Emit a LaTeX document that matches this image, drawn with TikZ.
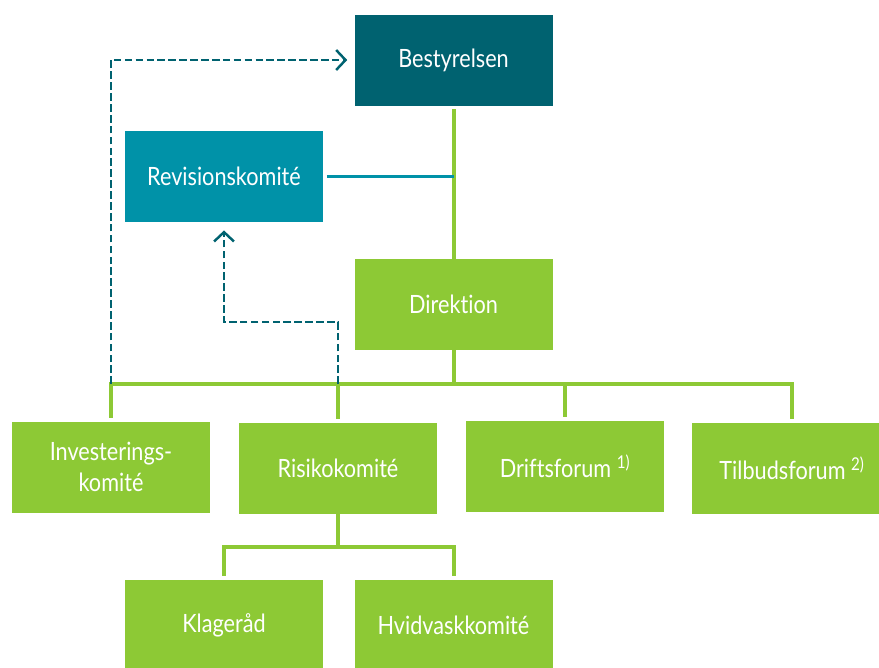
\documentclass[tikz,border=0pt]{standalone}
\usepackage{fontspec}
\setmainfont[FakeStretch=0.86,Ligatures=NoCommon]{Lato}
\usepackage{tikz}
\usetikzlibrary{arrows.meta}
\definecolor{boardc}{RGB}{0,98,112}
\definecolor{auditc}{RGB}{0,146,168}
\definecolor{mgmtc}{RGB}{141,201,53}

\begin{document}
\begin{tikzpicture}[x=0.03cm,y=-0.03cm,
  box/.style={fill=#1,text=white,minimum width=5.94cm,minimum height=2.73cm,inner sep=0pt,align=center,font=\fontsize{21.5}{26.5}\selectfont},
  gline/.style={mgmtc,line width=3.4pt},
  tline/.style={auditc,line width=2.6pt},
  dline/.style={boardc,line width=2.1pt,dash pattern=on 6.5pt off 2.8pt,-{Straight Barb[length=8pt,width=17pt,line width=2.1pt]}}]
\useasboundingbox (0,0) rectangle (879,667);
% boxes
\node[box=boardc] (best) at (453.5,60) {Bestyrelsen};
\node[box=auditc] (revi) at (224,176.5) {Revisionskomité};
\node[box=mgmtc] (dire) at (453.5,304.5) {Direktion};
\node[box=mgmtc] (inve) at (111,467) {Investerings-\\komité};
\node[box=mgmtc] (risk) at (338,468) {Risikokomité};
\node[box=mgmtc] (drif) at (565,466.5) {Driftsforum \textsuperscript{1)}};
\node[box=mgmtc,minimum width=6cm] (tilb) at (792,468) {Tilbudsforum \textsuperscript{2)}};
\node[box=mgmtc] (klag) at (224,625) {Klageråd};
\node[box=mgmtc] (hvid) at (453.5,625) {Hvidvaskkomité};
\coordinate (bar) at (453.5,384);
% solid lines
\draw[gline,shorten <=3pt] (best.south) -- (dire.north);
\draw[tline,shorten <=3pt] (revi.east) -- (revi.east -| best.south);
\foreach \n in {inve,risk,drif,tilb}{ \draw[gline,shorten >=3pt] (dire.south) -- (bar) -| (\n.north); }
\foreach \n in {klag,hvid}{ \draw[gline,shorten >=3pt] (risk.south) -- ++(0,33) -| (\n.north); }
% dashed reporting lines
\draw[dline,shorten >=6pt] (inve.north |- bar) |- (best.west);
\draw[dline,shorten >=7pt] (risk.north |- bar) -- ++(0,-62) -| (revi.south);
\end{tikzpicture}
\end{document}
